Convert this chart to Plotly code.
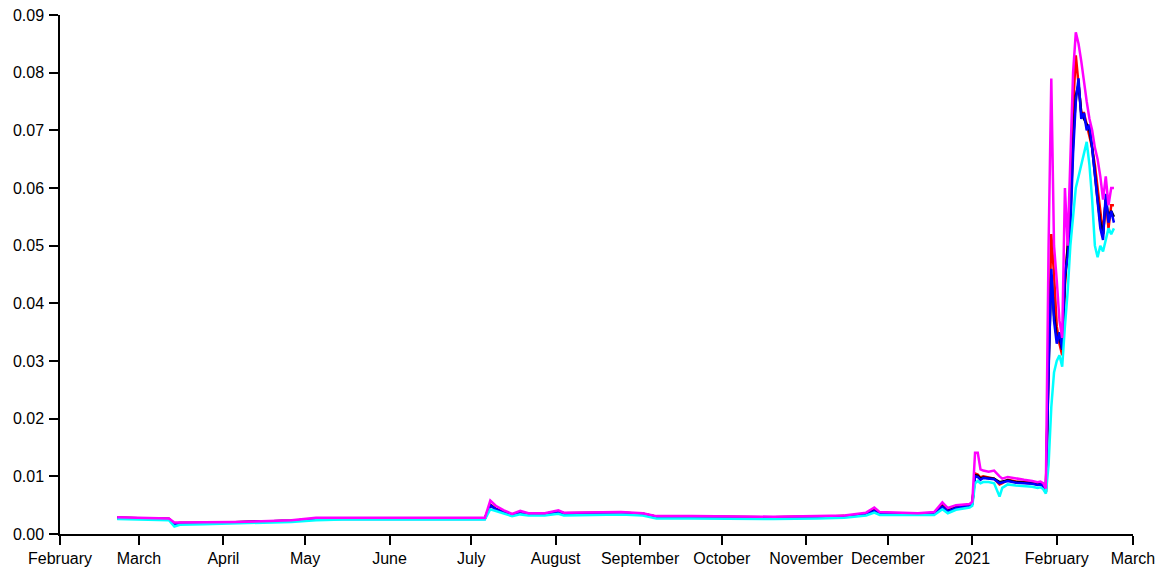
import plotly.graph_objects as go

dates = [
    "2020-02-22", "2020-03-01", "2020-03-08", "2020-03-12", "2020-03-14", "2020-03-16", "2020-03-25", "2020-04-05", "2020-04-15", "2020-04-26",
    "2020-05-05", "2020-05-15", "2020-06-01", "2020-06-15", "2020-07-01", "2020-07-06", "2020-07-08", "2020-07-10", "2020-07-13", "2020-07-16",
    "2020-07-19", "2020-07-22", "2020-07-28", "2020-08-02", "2020-08-04", "2020-08-15", "2020-08-25", "2020-09-02", "2020-09-07", "2020-09-20",
    "2020-10-05", "2020-10-20", "2020-11-05", "2020-11-15", "2020-11-23", "2020-11-26", "2020-11-28", "2020-12-05", "2020-12-12", "2020-12-18",
    "2020-12-21", "2020-12-23", "2020-12-26", "2020-12-31", "2021-01-01", "2021-01-02", "2021-01-03", "2021-01-04", "2021-01-05", "2021-01-07",
    "2021-01-09", "2021-01-11", "2021-01-12", "2021-01-14", "2021-01-17", "2021-01-20", "2021-01-23", "2021-01-25", "2021-01-26", "2021-01-27",
    "2021-01-28",
    "2021-01-29", "2021-01-30", "2021-01-31", "2021-02-01", "2021-02-02", "2021-02-03", "2021-02-04", "2021-02-05", "2021-02-06", "2021-02-07",
    "2021-02-08", "2021-02-09", "2021-02-10", "2021-02-11", "2021-02-12", "2021-02-13", "2021-02-14", "2021-02-15", "2021-02-16", "2021-02-17",
    "2021-02-18", "2021-02-19", "2021-02-20", "2021-02-21", "2021-02-22",
]

red = [
    0.0028, 0.0027, 0.0027, 0.0026, 0.0018, 0.0019, 0.0019, 0.0020, 0.0021, 0.0023,
    0.0026, 0.0027, 0.0027, 0.0027, 0.0026, 0.0027, 0.0051, 0.0044, 0.0038, 0.0034,
    0.0037, 0.0035, 0.0035, 0.0039, 0.0036, 0.0037, 0.0037, 0.0035, 0.0030, 0.0030,
    0.0029, 0.0029, 0.0030, 0.0031, 0.0035, 0.0042, 0.0036, 0.0036, 0.0035, 0.0036,
    0.0050, 0.0042, 0.0047, 0.0050, 0.0053, 0.0105, 0.0103, 0.0098, 0.0100, 0.0098,
    0.0096, 0.0086, 0.0088, 0.0094, 0.0091, 0.0090, 0.0089, 0.0087, 0.0088, 0.0085,
    0.0073,
    0.030, 0.052, 0.045, 0.036, 0.033, 0.031, 0.043, 0.050, 0.060, 0.074,
    0.083, 0.078, 0.073, 0.073, 0.071, 0.069, 0.067, 0.064, 0.060, 0.055,
    0.052, 0.058, 0.053, 0.057, 0.057,
]

black = [
    0.0028, 0.0027, 0.0027, 0.0026, 0.0018, 0.0019, 0.0019, 0.0020, 0.0021, 0.0023,
    0.0026, 0.0027, 0.0027, 0.0027, 0.0026, 0.0027, 0.0050, 0.0043, 0.0038, 0.0034,
    0.0037, 0.0035, 0.0035, 0.0039, 0.0036, 0.0037, 0.0037, 0.0035, 0.0030, 0.0030,
    0.0029, 0.0029, 0.0030, 0.0031, 0.0035, 0.0041, 0.0036, 0.0036, 0.0035, 0.0036,
    0.0048, 0.0040, 0.0046, 0.0050, 0.0053, 0.0102, 0.0101, 0.0096, 0.0098, 0.0097,
    0.0096, 0.0090, 0.0091, 0.0093, 0.0090, 0.0089, 0.0088, 0.0086, 0.0087, 0.0084,
    0.0073,
    0.029, 0.045, 0.038, 0.034, 0.034, 0.032, 0.044, 0.049, 0.055, 0.068,
    0.076, 0.078, 0.073, 0.072, 0.071, 0.070, 0.067, 0.062, 0.058, 0.054,
    0.052, 0.058, 0.055, 0.056, 0.055,
]

blue = [
    0.0027, 0.0027, 0.0026, 0.0026, 0.0017, 0.0018, 0.0019, 0.0020, 0.0021, 0.0023,
    0.0026, 0.0026, 0.0027, 0.0027, 0.0026, 0.0026, 0.0050, 0.0043, 0.0037, 0.0033,
    0.0036, 0.0034, 0.0034, 0.0038, 0.0035, 0.0036, 0.0036, 0.0034, 0.0029, 0.0029,
    0.0028, 0.0028, 0.0029, 0.0030, 0.0034, 0.0040, 0.0035, 0.0035, 0.0034, 0.0035,
    0.0047, 0.0039, 0.0045, 0.0049, 0.0052, 0.0100, 0.0099, 0.0094, 0.0097, 0.0096,
    0.0095, 0.0088, 0.0089, 0.0092, 0.0089, 0.0088, 0.0087, 0.0085, 0.0086, 0.0083,
    0.0072,
    0.028, 0.046, 0.037, 0.033, 0.035, 0.032, 0.045, 0.048, 0.053, 0.066,
    0.075, 0.079, 0.072, 0.073, 0.070, 0.071, 0.067, 0.062, 0.057, 0.053,
    0.051, 0.059, 0.054, 0.056, 0.054,
]

cyan = [
    0.0026, 0.0025, 0.0025, 0.0024, 0.0013, 0.0016, 0.0017, 0.0018, 0.0019, 0.0021,
    0.0024, 0.0025, 0.0025, 0.0025, 0.0024, 0.0025, 0.0043, 0.0040, 0.0035, 0.0031,
    0.0034, 0.0032, 0.0032, 0.0035, 0.0032, 0.0033, 0.0034, 0.0032, 0.0027, 0.0027,
    0.0026, 0.0026, 0.0027, 0.0028, 0.0032, 0.0037, 0.0033, 0.0033, 0.0032, 0.0033,
    0.0043, 0.0036, 0.0042, 0.0046, 0.0049, 0.0088, 0.0092, 0.0088, 0.0090, 0.0090,
    0.0088, 0.0065, 0.0080, 0.0086, 0.0084, 0.0083, 0.0082, 0.0080, 0.0081, 0.0078,
    0.0070,
    0.012, 0.022, 0.028, 0.030, 0.031, 0.029, 0.036, 0.042, 0.050, 0.055,
    0.060, 0.062, 0.064, 0.066, 0.068, 0.064, 0.058, 0.050, 0.048, 0.050,
    0.049, 0.051, 0.053, 0.052, 0.053,
]

magenta = [
    0.0029, 0.0028, 0.0028, 0.0027, 0.0020, 0.0020, 0.0020, 0.0021, 0.0022, 0.0024,
    0.0028, 0.0028, 0.0028, 0.0028, 0.0027, 0.0028, 0.0058, 0.0049, 0.0041, 0.0035,
    0.0040, 0.0036, 0.0036, 0.0041, 0.0037, 0.0038, 0.0038, 0.0036, 0.0031, 0.0031,
    0.0030, 0.0030, 0.0031, 0.0032, 0.0037, 0.0046, 0.0038, 0.0037, 0.0036, 0.0038,
    0.0055, 0.0045, 0.0050, 0.0052, 0.0056, 0.0141, 0.0141, 0.0112, 0.0110, 0.0108,
    0.0110, 0.0100, 0.0096, 0.0099, 0.0096, 0.0094, 0.0092, 0.0090, 0.0091, 0.0088,
    0.0079,
    0.050, 0.079, 0.050, 0.044, 0.037, 0.034, 0.060, 0.050, 0.066, 0.080,
    0.087, 0.085, 0.082, 0.078, 0.075, 0.072, 0.070, 0.067, 0.065, 0.062,
    0.058, 0.062, 0.057, 0.060, 0.060,
]

tick_dates = ["2020-02-01", "2020-03-01", "2020-04-01", "2020-05-01", "2020-06-01", "2020-07-01",
              "2020-08-01", "2020-09-01", "2020-10-01", "2020-11-01", "2020-12-01", "2021-01-01",
              "2021-02-01", "2021-03-01"]
tick_labels = ["February", "March", "April", "May", "June", "July", "August", "September",
               "October", "November", "December", "2021", "February", "March"]
y_ticks = [0.00, 0.01, 0.02, 0.03, 0.04, 0.05, 0.06, 0.07, 0.08, 0.09]

series = [("red", red, "#ff0000"), ("black", black, "#000000"), ("blue", blue, "#0000ff"),
          ("cyan", cyan, "#00ffff"), ("magenta", magenta, "#ff00ff")]

fig = go.Figure()
for name, vals, col in series:
    fig.add_trace(go.Scatter(x=dates, y=vals, mode="lines", name=name,
                             line=dict(color=col, width=2.5), hoverinfo="x+y"))

font = dict(family="Liberation Sans, Arial, sans-serif", size=16, color="#000000")
fig.update_layout(
    width=1156, height=561,
    margin=dict(l=52, r=31, t=7, b=35, pad=0),
    paper_bgcolor="white", plot_bgcolor="white",
    showlegend=False,
    font=font,
)
fig.update_xaxes(
    type="date", range=["2020-02-01", "2021-03-01"], automargin=False,
    tickmode="array", tickvals=tick_dates, ticktext=tick_labels,
    showgrid=False, zeroline=False, ticklabeloverflow="allow",
    showline=True, linecolor="#000000", linewidth=1.5,
    ticks="outside", ticklen=9, tickwidth=1.5, tickcolor="#000000",
    tickfont=font,
)
fig.update_yaxes(
    range=[0, 0.09], automargin=False,
    tickmode="array", tickvals=y_ticks, ticktext=[f"{v:.2f}" for v in y_ticks],
    showgrid=False, zeroline=False, ticklabeloverflow="allow",
    showline=True, linecolor="#000000", linewidth=1.5,
    ticks="outside", ticklen=9, tickwidth=1.5, tickcolor="#000000",
    tickfont=font, ticklabelstandoff=2,
)

fig.write_html("out.html")
